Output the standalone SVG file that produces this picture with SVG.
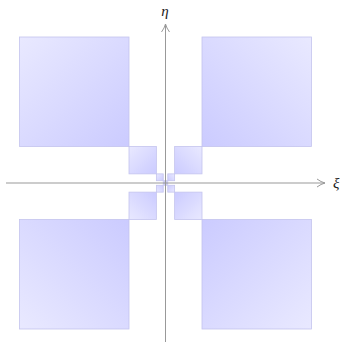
<svg xmlns="http://www.w3.org/2000/svg" width="342" height="342" viewBox="0 0 342 342">
<style>
.sq{stroke:#c4c4ee;stroke-width:0.8}
.ax{stroke:#999;stroke-width:1;fill:none}
.lbl{font-family:"Liberation Serif",serif;font-style:italic;font-size:15px;fill:#222}
</style>
<defs>
<linearGradient id="gTL" x1="0" y1="0" x2="1" y2="1"><stop offset="0" stop-color="#e9e9ff"/><stop offset="1" stop-color="#cbcbff"/></linearGradient>
<linearGradient id="gTR" x1="1" y1="0" x2="0" y2="1"><stop offset="0" stop-color="#e9e9ff"/><stop offset="1" stop-color="#cbcbff"/></linearGradient>
<linearGradient id="gBL" x1="0" y1="1" x2="1" y2="0"><stop offset="0" stop-color="#e9e9ff"/><stop offset="1" stop-color="#cbcbff"/></linearGradient>
<linearGradient id="gBR" x1="1" y1="1" x2="0" y2="0"><stop offset="0" stop-color="#e9e9ff"/><stop offset="1" stop-color="#cbcbff"/></linearGradient>
<marker id="arr" viewBox="0 0 10 10" refX="9" refY="5" markerWidth="10" markerHeight="10" markerUnits="userSpaceOnUse" orient="auto">
<path d="M1,1 Q5,4 9,5 Q5,6 1,9" fill="none" stroke="#999" stroke-width="1"/>
</marker>
</defs>
<g id="squares">
<rect id="sq0tl" class="sq" fill="url(#gTL)" x="19.5" y="37" width="109.5" height="109.5"/>
<rect id="sq0tr" class="sq" fill="url(#gTR)" x="202" y="37" width="109.5" height="109.5"/>
<rect id="sq0bl" class="sq" fill="url(#gBL)" x="19.5" y="219.5" width="109.5" height="109.5"/>
<rect id="sq0br" class="sq" fill="url(#gBR)" x="202" y="219.5" width="109.5" height="109.5"/>
<rect id="sq1tl" class="sq" fill="url(#gTL)" x="129" y="146.5" width="27.375" height="27.375"/>
<rect id="sq1tr" class="sq" fill="url(#gTR)" x="174.625" y="146.5" width="27.375" height="27.375"/>
<rect id="sq1bl" class="sq" fill="url(#gBL)" x="129" y="192.125" width="27.375" height="27.375"/>
<rect id="sq1br" class="sq" fill="url(#gBR)" x="174.625" y="192.125" width="27.375" height="27.375"/>
<rect id="sq2tl" class="sq" fill="url(#gTL)" x="156.375" y="173.875" width="6.84" height="6.84"/>
<rect id="sq2tr" class="sq" fill="url(#gTR)" x="167.78" y="173.875" width="6.84" height="6.84"/>
<rect id="sq2bl" class="sq" fill="url(#gBL)" x="156.375" y="185.28" width="6.84" height="6.84"/>
<rect id="sq2br" class="sq" fill="url(#gBR)" x="167.78" y="185.28" width="6.84" height="6.84"/>
<rect id="sq3tl" class="sq" fill="url(#gTL)" x="163.22" y="180.72" width="1.71" height="1.71" stroke-width="0.4"/>
<rect id="sq3tr" class="sq" fill="url(#gTR)" x="166.07" y="180.72" width="1.71" height="1.71" stroke-width="0.4"/>
<rect id="sq3bl" class="sq" fill="url(#gBL)" x="163.22" y="183.57" width="1.71" height="1.71" stroke-width="0.4"/>
<rect id="sq3br" class="sq" fill="url(#gBR)" x="166.07" y="183.57" width="1.71" height="1.71" stroke-width="0.4"/>
</g>
<g id="connectors">
<line class="ax" x1="6" y1="183" x2="325" y2="183" marker-end="url(#arr)"/>
<line class="ax" x1="165.5" y1="342" x2="165.5" y2="24" marker-end="url(#arr)"/>
</g>
<g id="labels">
<text id="eta" class="lbl" x="165" y="16" text-anchor="middle">η</text>
<text id="xi" class="lbl" x="333" y="188">ξ</text>
</g>
</svg>
